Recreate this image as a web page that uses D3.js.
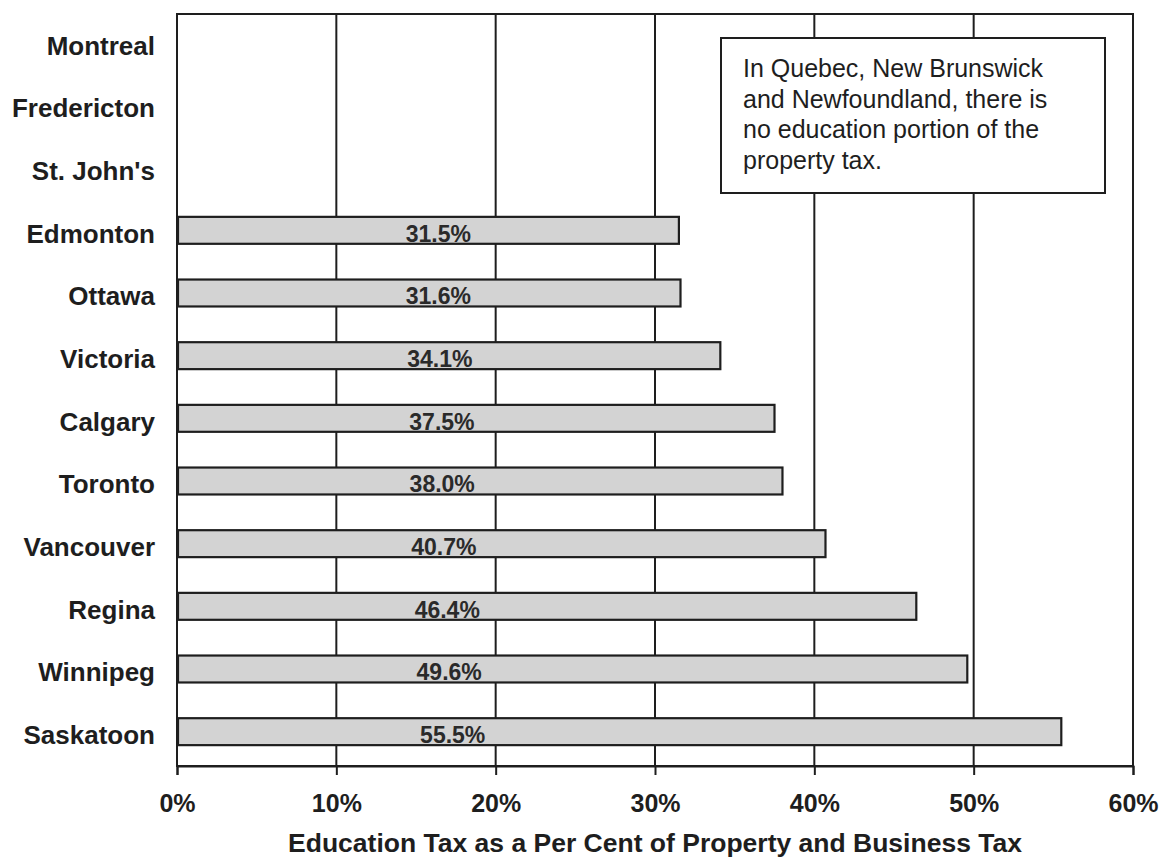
<!DOCTYPE html>
<html>
<head>
<meta charset="utf-8">
<script src="https://cdn.jsdelivr.net/npm/d3@7"></script>
<style>
  html, body { margin: 0; padding: 0; background: #fff; }
  svg { display: block; }
</style>
</head>
<body>
<div id="chart"></div>
<script>
// City names, top to bottom
const cities = ["Montreal", "Fredericton", "St. John's", "Edmonton", "Ottawa", "Victoria",
                "Calgary", "Toronto", "Vancouver", "Regina", "Winnipeg", "Saskatoon"];
// Education share of property and business tax (%); null = no education portion
const shares = [null, null, null, 31.5, 31.6, 34.1, 37.5, 38.0, 40.7, 46.4, 49.6, 55.5];
const xTicks = [0, 10, 20, 30, 40, 50, 60];
const noteLines = ["In Quebec, New Brunswick", "and Newfoundland, there is",
                   "no education portion of the", "property tax."];
const xTitle = "Education Tax as a Per Cent of Property and Business Tax";

const W = 1164, H = 858;
const margin = { top: 14, right: 31, bottom: 92, left: 177 };
const iw = W - margin.left - margin.right;
const ih = H - margin.top - margin.bottom;

const svg = d3.select("#chart").append("svg").attr("width", W).attr("height", H);
const g = svg.append("g").attr("transform", `translate(${margin.left},${margin.top})`);

const x = d3.scaleLinear().domain([0, 60]).range([0, iw]);
const y = d3.scaleBand().domain(cities).range([0, ih]).paddingInner(0.57).paddingOuter(0.285);

const ink = "#1e1e1e";
const sans = "'Liberation Sans', Arial, Helvetica, sans-serif";

// Vertical gridlines
g.append("g").selectAll("line").data(xTicks).join("line")
  .attr("x1", d => x(d)).attr("x2", d => x(d))
  .attr("y1", 0).attr("y2", ih)
  .attr("stroke", ink).attr("stroke-width", 2);

// Plot frame
g.append("rect").attr("x", 0).attr("y", 0).attr("width", iw).attr("height", ih)
  .attr("fill", "none").attr("stroke", ink).attr("stroke-width", 2);

// Bottom axis with ticks below the frame
const xAxis = d3.axisBottom(x).tickValues(xTicks).tickSize(9).tickFormat(d => d + "%");
const ax = g.append("g").attr("transform", `translate(0,${ih})`).call(xAxis);
ax.select(".domain").attr("stroke", ink).attr("stroke-width", 2);
ax.selectAll(".tick line").attr("stroke", ink).attr("stroke-width", 2);
ax.selectAll(".tick text")
  .attr("y", 46).attr("dy", null)
  .attr("font-family", sans).attr("font-weight", "bold").attr("font-size", 25)
  .attr("fill", ink);

// City labels
g.append("g").selectAll("text").data(cities).join("text")
  .attr("x", -22)
  .attr("y", d => y(d) + y.bandwidth() / 2)
  .attr("dy", "0.36em")
  .attr("text-anchor", "end")
  .attr("font-family", sans)
  .attr("font-weight", "bold").attr("font-size", 26)
  .attr("fill", ink)
  .text(d => d);

const rows = cities.map((c, i) => ({ city: c, v: shares[i] })).filter(d => d.v !== null);

// Bars
g.append("g").selectAll("rect").data(rows).join("rect")
  .attr("x", x(0) + 1)
  .attr("y", d => y(d.city) - 3)
  .attr("width", d => x(d.v) - x(0) - 1)
  .attr("height", y.bandwidth())
  .attr("fill", "#d3d3d3")
  .attr("stroke", ink).attr("stroke-width", 2.2);

// Value labels
g.append("g").selectAll("text").data(rows).join("text")
  .attr("x", d => x(16.4) + (d.v - 31.5) * 0.6)
  .attr("y", d => y(d.city) - 3 + y.bandwidth() - 2)
  .attr("text-anchor", "middle")
  .attr("font-family", sans)
  .attr("font-weight", "bold").attr("font-size", 23)
  .attr("fill", "#2a2a2a")
  .text(d => d.v.toFixed(1) + "%");

// Note box
const note = g.append("g").attr("transform", `translate(${721 - margin.left},${38 - margin.top})`);
note.append("rect").attr("width", 384).attr("height", 155)
  .attr("fill", "#fff").attr("stroke", ink).attr("stroke-width", 2);
note.selectAll("text").data(noteLines).join("text")
  .attr("x", 22)
  .attr("y", (d, i) => 39 + i * 30.5)
  .attr("font-family", sans)
  .attr("font-size", 25)
  .attr("fill", ink)
  .text(d => d);

// Axis title
svg.append("text")
  .attr("x", margin.left + iw / 2)
  .attr("y", 852)
  .attr("text-anchor", "middle")
  .attr("font-family", sans).attr("font-weight", "bold").attr("font-size", 26.5)
  .attr("fill", ink)
  .text(xTitle);
</script>
</body>
</html>
